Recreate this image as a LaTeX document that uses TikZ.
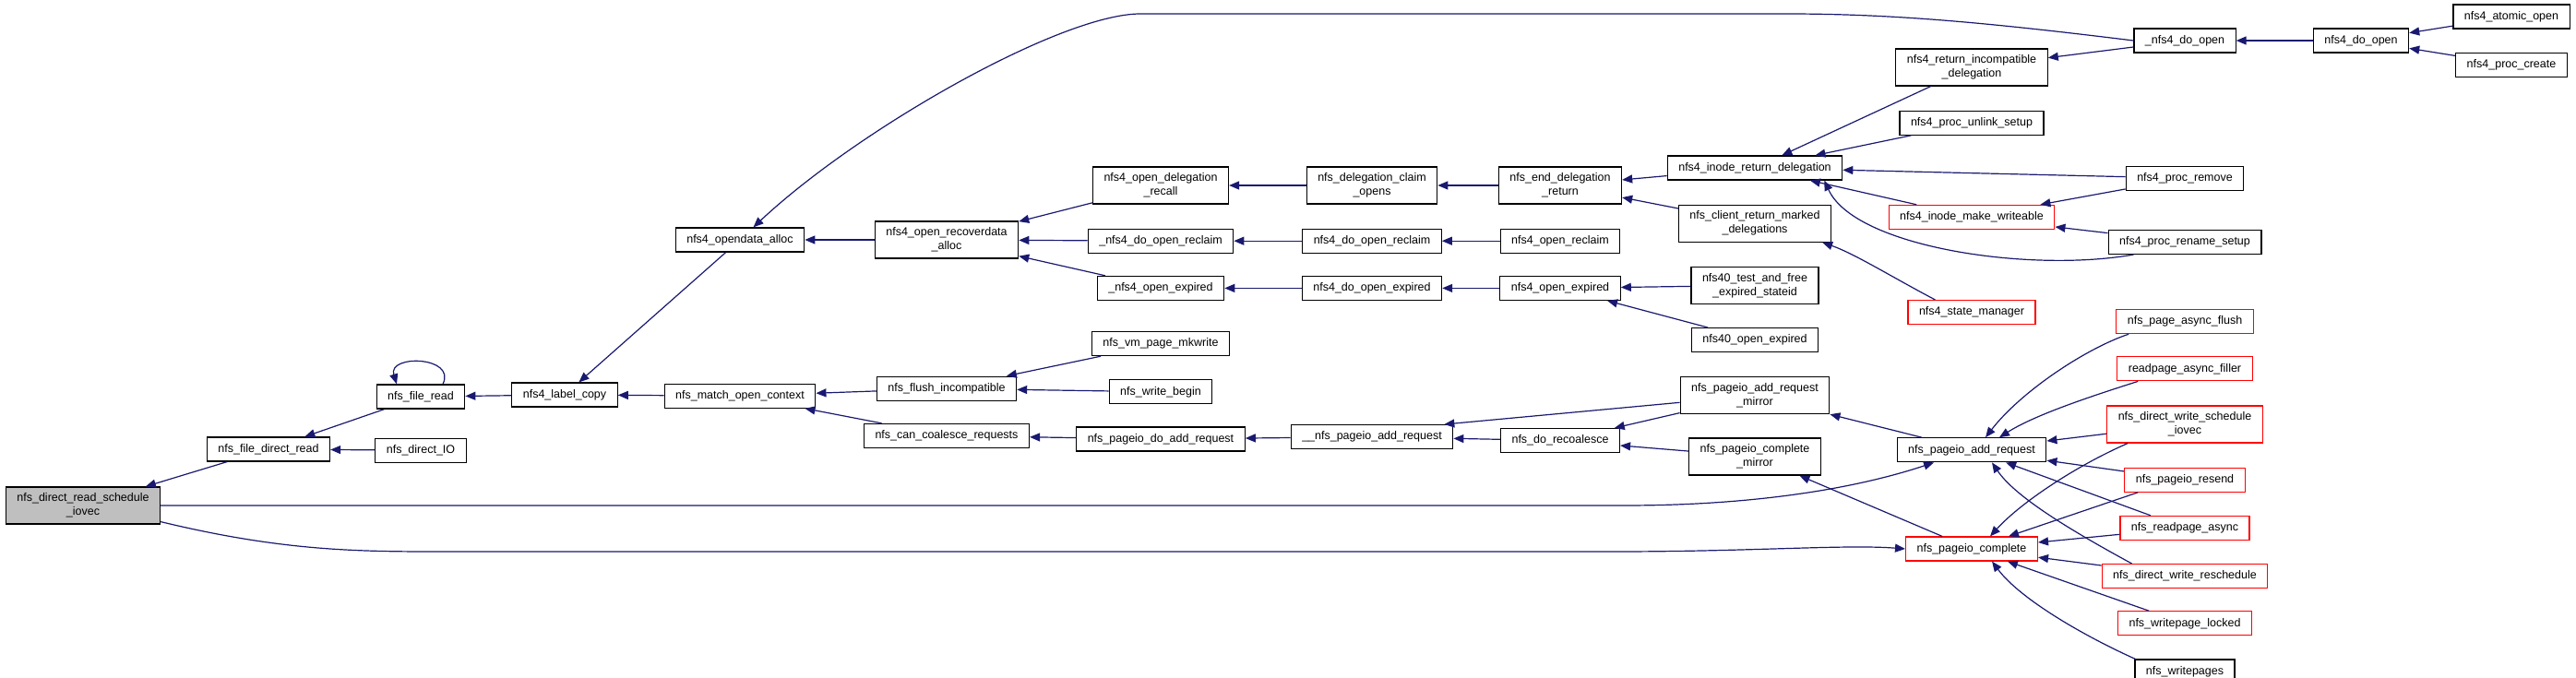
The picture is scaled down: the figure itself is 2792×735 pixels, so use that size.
\documentclass[tikz,border=0pt]{standalone}
\usepackage{fontspec}
\setmainfont{Liberation Sans}
\usetikzlibrary{positioning, arrows.meta}
\definecolor{edgeblue}{HTML}{191970}
\definecolor{hotred}{HTML}{FF0000}

\begin{document}
\begin{tikzpicture}[
  x = 1pt, y = -1pt,
  node distance = 25pt,
  every node/.style = {draw, fill=white, line width=1.2pt, inner xsep=12pt, inner ysep=3pt,
                       minimum height=26pt, align=center, font=\fontsize{12.5}{15}\selectfont},
  two/.style = {minimum height=40pt},
  hot/.style = {draw=hotred},
  focus/.style = {fill=black!25},
  arr/.style = {-{Triangle[length=11pt, width=9pt]}, draw=edgeblue, line width=1.2pt}
]
\useasboundingbox (0,0) rectangle (2792,735);

\node[focus, two] (sched) at (90,548)  {nfs\_direct\_read\_schedule\\\_iovec};
\node (fdr) at (291,487)               {nfs\_file\_direct\_read};
\node (fr)  at (456,430)               {nfs\_file\_read};
\node (dio) [below=31pt of fr]         {nfs\_direct\_IO};
\node (lc)  at (612,428)               {nfs4\_label\_copy};
\node (oda) at (802,260)               {nfs4\_opendata\_alloc};
\node (moc) [below=142pt of oda]       {nfs\_match\_open\_context};

\node[two] (rda) at (1026,260)         {nfs4\_open\_recoverdata\\\_alloc};
\node (fi)  [below=127pt of rda]       {nfs\_flush\_incompatible};
\node (cc)  [below=24pt of fi]         {nfs\_can\_coalesce\_requests};

\node[two] (odr) at (1258,201)         {nfs4\_open\_delegation\\\_recall};
\node (xdor) [below=26pt of odr]       {\_nfs4\_do\_open\_reclaim};
\node (xoe)  [below=24pt of xdor]      {\_nfs4\_open\_expired};
\node (vpm)  [below=33pt of xoe]       {nfs\_vm\_page\_mkwrite};
\node (wb)   [below=of vpm]            {nfs\_write\_begin};
\node (pdar) [below=24pt of wb]        {nfs\_pageio\_do\_add\_request};

\node[two] (dco) at (1487,201)         {nfs\_delegation\_claim\\\_opens};
\node (dor) [below=26pt of dco]        {nfs4\_do\_open\_reclaim};
\node (doe) [below=24pt of dor]        {nfs4\_do\_open\_expired};
\node (pna) [below=134pt of doe]       {\_\_nfs\_pageio\_add\_request};

\node[two] (edr) at (1691,201)         {nfs\_end\_delegation\\\_return};
\node (orc) [below=26pt of edr]        {nfs4\_open\_reclaim};
\node (oe)  [below=24pt of orc]        {nfs4\_open\_expired};
\node (drc) [below=138pt of oe]        {nfs\_do\_recoalesce};

\node (ird) at (1902,182)              {nfs4\_inode\_return\_delegation};
\node[two] (crm)  [below=26pt of ird]  {nfs\_client\_return\_marked\\\_delegations};
\node[two] (tfe)  [below=26pt of crm]  {nfs40\_test\_and\_free\\\_expired\_stateid};
\node (oe40)      [below=of tfe]       {nfs40\_open\_expired};
\node[two] (parm) [below=26pt of oe40] {nfs\_pageio\_add\_request\\\_mirror};
\node[two] (pcm)  [below=of parm]      {nfs\_pageio\_complete\\\_mirror};

\node[two] (ric) at (2137,73)          {nfs4\_return\_incompatible\\\_delegation};
\node (pus)      [below=26pt of ric]   {nfs4\_proc\_unlink\_setup};
\node[hot] (imw) [below=75pt of pus]   {nfs4\_inode\_make\_writeable};
\node[hot] (sm)  [below=76pt of imw]   {nfs4\_state\_manager};
\node (par)      [below=122pt of sm]   {nfs\_pageio\_add\_request};
\node[hot] (pc)  [below=80pt of par]   {nfs\_pageio\_complete};

\node (xdo) at (2368,44)               {\_nfs4\_do\_open};
\node (prm)       [below=122pt of xdo] {nfs4\_proc\_remove};
\node (prs)       [below=42pt of prm]  {nfs4\_proc\_rename\_setup};
\node[hot] (paf)  [below=59pt of prs]  {nfs\_page\_async\_flush};
\node[hot] (raf)  [below=24pt of paf]  {readpage\_async\_filler};
\node[hot, two] (dwsi) [below=26pt of raf] {nfs\_direct\_write\_schedule\\\_iovec};
\node[hot] (pres) [below=26pt of dwsi] {nfs\_pageio\_resend};
\node[hot] (ra)   [below=of pres]      {nfs\_readpage\_async};
\node[hot] (dwr)  [below=of ra]        {nfs\_direct\_write\_reschedule};
\node[hot] (wpl)  [below=24pt of dwr]  {nfs\_writepage\_locked};
\node (wp)        [below=of wpl]       {nfs\_writepages};

\node (ndo) at (2559,44)               {nfs4\_do\_open};
\node (ao)  at (2722,18)               {nfs4\_atomic\_open};
\node (pcr) [below=of ao]              {nfs4\_proc\_create};

% left part
\draw[arr] (fdr) -- (sched);
\draw[arr] (dio) -- (fdr);
\draw[arr] (fr) -- (fdr);
\draw[arr] ([xshift=24pt]fr.north) .. controls (495,386) and (420,384) .. ([xshift=-26pt]fr.north); % self call
\draw[arr] (lc) -- (fr);
\draw[arr] (oda) -- (lc);
\draw[arr] (moc) -- (lc);
\draw[arr] (rda) -- (oda);
\draw[arr] (xdo.west) .. controls (2150,24) and (2050,15) .. (1936,15) -- (1236,15)
           .. controls (1150,15) and (930,140) .. (oda);   % long arc over the top
\draw[arr] (odr) -- (rda);
\draw[arr] (xdor) -- (rda);
\draw[arr] (xoe) -- (rda);
\draw[arr] (fi) -- (moc);
\draw[arr] (cc) -- (moc);
\draw[arr] (vpm) -- (fi);
\draw[arr] (wb) -- (fi);
\draw[arr] (pdar) -- (cc);
\draw[arr] (pna) -- (pdar);

% delegation chain
\draw[arr] (dco) -- (odr);
\draw[arr] (dor) -- (xdor);
\draw[arr] (doe) -- (xoe);
\draw[arr] (edr) -- (dco);
\draw[arr] (orc) -- (dor);
\draw[arr] (oe) -- (doe);
\draw[arr] (ird) -- (edr);
\draw[arr] (crm) -- (edr);
\draw[arr] (tfe) -- (oe);
\draw[arr] (oe40) -- (oe);
\draw[arr] (ric) -- (ird);
\draw[arr] (pus) -- (ird);
\draw[arr] (prm) -- (ird);
\draw[arr] (imw) -- (ird);
\draw[arr] ([xshift=28pt]prs.south west) .. controls (2200,296) and (2010,268) .. ([xshift=-20pt]ird.south east);
\draw[arr] ([xshift=30pt]sm.north west) .. controls (2050,300) and (2010,275) .. ([xshift=-10pt]crm.south east);
\draw[arr] (xdo) -- (ric);
\draw[arr] (ndo) -- (xdo);
\draw[arr] (ao) -- (ndo);
\draw[arr] (pcr) -- (ndo);
\draw[arr] (prm) -- (imw);
\draw[arr] (prs) -- (imw);

% pageio part
\draw[arr] (parm) -- ([xshift=-10pt]pna.north east);
\draw[arr] (drc) -- (pna);
\draw[arr] (parm) -- (drc);
\draw[arr] (pcm) -- (drc);
\draw[arr] (par) -- (parm);
\draw[arr] (pc) -- (pcm);
\draw[arr] (sched) -- (1760,548) .. controls (1900,548) and (2010,530) .. (par);
\draw[arr] ([yshift=3pt]sched.south east) .. controls (300,596) and (380,598) .. (470,598)
           -- (1750,598) .. controls (1900,598) and (2000,590) .. (pc.west);

\draw[arr] ([xshift=14pt]paf.south west) .. controls (2260,378) and (2190,425) .. ([xshift=15pt]par.north);
\draw[arr] ([xshift=23pt]raf.south west) .. controls (2265,430) and (2205,450) .. ([xshift=30pt]par.north);
\draw[arr] (dwsi) -- (par);
\draw[arr] (pres) -- (par);
\draw[arr] (ra) -- (par);
\draw[arr] ([xshift=33pt]dwr.north west) .. controls (2250,578) and (2185,540) .. ([xshift=22pt]par.south);

\draw[arr] ([xshift=23pt]dwsi.south west) .. controls (2250,505) and (2190,545) .. ([xshift=20pt]pc.north);
\draw[arr] ([xshift=15pt]pres.south west) -- ([xshift=40pt]pc.north);
\draw[arr] (ra) -- (pc);
\draw[arr] (dwr) -- (pc);
\draw[arr] (wpl) -- (pc);
\draw[arr] ([xshift=1pt]wp.north west) .. controls (2260,690) and (2190,650) .. ([xshift=22pt]pc.south);

\end{tikzpicture}
\end{document}
